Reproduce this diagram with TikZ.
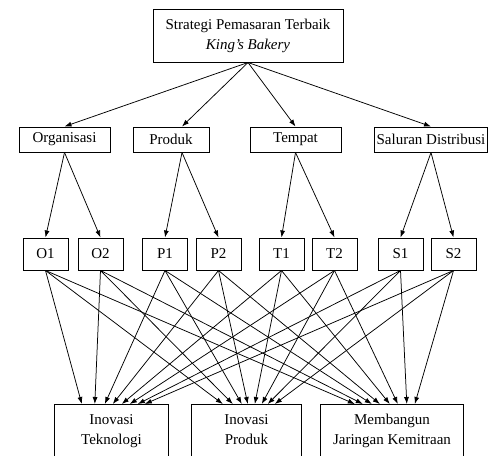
\documentclass[tikz,border=0pt]{standalone}
\usepackage{fontspec}
\setmainfont{Liberation Serif}
\usetikzlibrary{arrows.meta, positioning, calc}

\tikzset{
  box/.style={draw, line width=1pt, minimum height=25pt, inner sep=2pt, align=center},
  plain/.style={inner sep=2pt, align=center},
  arr/.style={-{Latex[length=7pt,width=5pt]}, line width=0.75pt},
}

\begin{document}
\begin{tikzpicture}[x=1pt, y=-1pt, every node/.style={font=\fontsize{15}{20}\selectfont}]
    \useasboundingbox (0,0) rectangle (489,455);

    % Draw the main box
    \node[box, minimum width=190pt, minimum height=53pt] (strat) at (248,35.5) {Strategi Pemasaran Terbaik\\ \textit{King's Bakery}};

    % Draw the aspect boxes
    \node[box, minimum width=91pt] (org) at (64.5,139.5) {Organisasi};
    \node[box, minimum width=76pt] (prod) at (171,139.5) {Produk};
    \node[box, minimum width=91pt] (tem) at (295.5,139.5) {Tempat};
    \node[box, minimum width=112pt] (sal) at (431,139.5) {Saluran Distribusi};

    % Draw the small boxes
    \foreach \nm/\xx in {O1/45.5, O2/100.5, P1/165, P2/218.5, T1/281.5, T2/334.5, S1/400.5, S2/453.5}
        \node[box, minimum width=45pt, minimum height=32pt] (\nm) at (\xx,254) {\nm};

    % Draw the goal boxes (cut at the bottom)
    \node[plain, minimum width=113pt, anchor=north, inner ysep=10pt] (tek) at (111.5,404) {Inovasi\\Teknologi};
    \node[plain, minimum width=109pt, anchor=north, inner ysep=10pt] (inp) at (246.5,404) {Inovasi\\Produk};
    \node[plain, minimum width=142pt, anchor=north, inner ysep=10pt] (mjk) at (392,404) {Membangun\\Jaringan Kemitraan};
    \foreach \nm in {tek, inp, mjk}
        \draw[line width=1pt] (\nm.north west) rectangle ([yshift=-30pt]\nm.south east);

    % Draw the arrows from the main box
    \draw[arr] (strat.south) -- (org.north);
    \draw[arr] (strat.south) -- ([xshift=11pt]prod.north);
    \draw[arr] (strat.south) -- (tem.north);
    \draw[arr] (strat.south) -- (sal.north);

    % Draw the arrows to the small boxes
    \draw[arr] (org.south) -- (O1.north);
    \draw[arr] (org.south) -- (O2.north);
    \draw[arr] ([xshift=11pt]prod.south) -- (P1.north);
    \draw[arr] ([xshift=11pt]prod.south) -- (P2.north);
    \draw[arr] (tem.south) -- (T1.north);
    \draw[arr] (tem.south) -- (T2.north);
    \draw[arr] (sal.south) -- (S1.north);
    \draw[arr] (sal.south) -- (S2.north);

    % Draw the arrows to the goal boxes
    \foreach \src/\a/\b/\c in {O1/27/31/34, O2/40/41/42, P1/50/50/51, P2/58/56/59,
                               T1/67/63/69, T2/75/70/77, S1/83/76/86, S2/90/83/94}{
        \draw[arr] (\src.south) -- ([xshift=\a pt]tek.north west);
        \draw[arr] (\src.south) -- ([xshift=\b pt]inp.north west);
        \draw[arr] (\src.south) -- ([xshift=\c pt]mjk.north west);
    }

\end{tikzpicture}
\end{document}
